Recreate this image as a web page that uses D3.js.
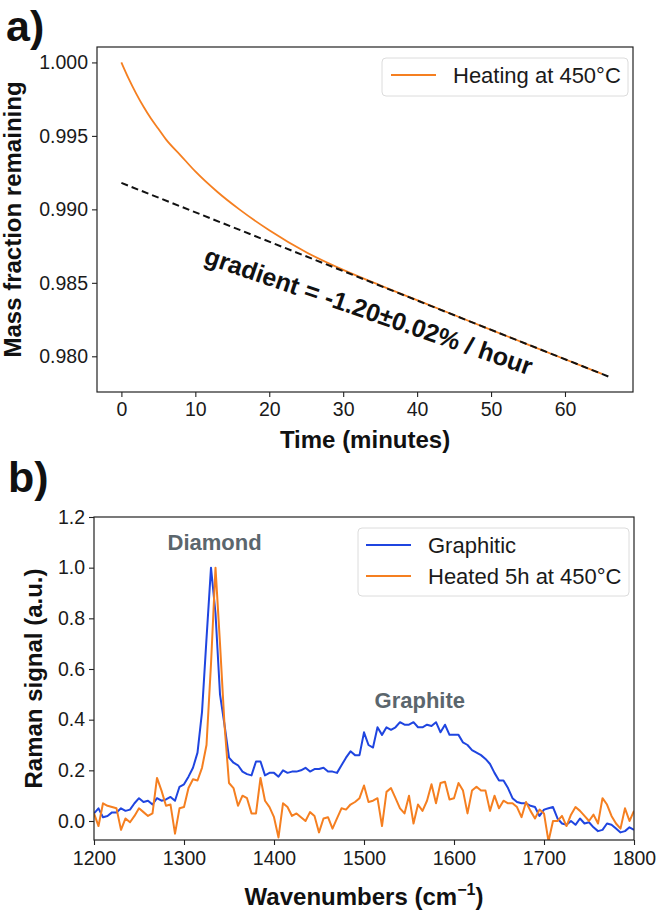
<!DOCTYPE html>
<html><head><meta charset="utf-8">
<script src="https://cdn.jsdelivr.net/npm/d3@7"></script>
<style>
body{margin:0;background:#fff}
text{font-family:"Liberation Sans",Arial,Helvetica,sans-serif}
</style>
</head><body>
<svg id="c" width="661" height="916"></svg>
<script>
// ---------- Panel a data ----------
const timeMin = [0,1,2,3,4,5,6,8,10,13,16,20,25,30,35,40,45,50,55,60,65];
const massFraction = [1.0000,0.99888,0.99788,0.99698,0.99618,0.99548,0.99478,0.99368,0.99258,0.99118,0.98998,0.98858,0.98708,0.98588,0.98483,0.98382,0.98281,0.98180,0.98080,0.97980,0.97880];
const fitTime = [0, 66];
const fitMass = [0.9918, 0.9786];
const timeTicks = [0,10,20,30,40,50,60];
const massTicks = [0.980,0.985,0.990,0.995,1.000];
const legendA = ["Heating at 450°C"];
const gradientLabel = "gradient = -1.20±0.02% / hour";

// ---------- Panel b data ----------
const wavenumbers = [1200,1205,1210,1215,1220,1225,1230,1235,1240,1245,1250,1255,1260,1265,1270,1275,1280,1285,1290,1295,
1300,1305,1310,1315,1320,1325,1330,1335,1340,1345,1350,1355,1360,1365,1370,1375,1380,1385,1390,1395,
1400,1405,1410,1415,1420,1425,1430,1435,1440,1445,1450,1455,1460,1465,1470,1475,1480,1485,1490,1495,
1500,1505,1510,1515,1520,1525,1530,1535,1540,1545,1550,1555,1560,1565,1570,1575,1580,1585,1590,1595,
1600,1605,1610,1615,1620,1625,1630,1635,1640,1645,1650,1655,1660,1665,1670,1675,1680,1685,1690,1695,
1700,1705,1710,1715,1720,1725,1730,1735,1740,1745,1750,1755,1760,1765,1770,1775,1780,1785,1790,1795,1800];
const graphitic = [0.03,0.05,0.015,0.02,0.034,0.034,0.05,0.04,0.045,0.07,0.09,0.075,0.08,0.065,0.09,0.08,0.085,0.095,0.08,0.135,
0.145,0.175,0.21,0.27,0.43,0.72,1.0,0.82,0.50,0.38,0.25,0.23,0.22,0.195,0.185,0.18,0.235,0.235,0.18,0.19,
0.19,0.175,0.2,0.19,0.195,0.195,0.2,0.21,0.195,0.205,0.205,0.21,0.195,0.195,0.19,0.22,0.25,0.275,0.26,0.26,
0.35,0.30,0.29,0.37,0.34,0.37,0.36,0.37,0.39,0.38,0.38,0.39,0.37,0.37,0.38,0.375,0.39,0.35,0.38,0.34,
0.34,0.34,0.31,0.30,0.28,0.27,0.26,0.245,0.225,0.19,0.16,0.16,0.13,0.09,0.075,0.07,0.07,0.06,0.055,0.02,
0.045,0.05,0.055,0.01,-0.01,-0.015,0.0,-0.015,0.01,-0.01,-0.005,-0.025,-0.04,-0.035,-0.01,-0.015,-0.03,-0.045,-0.04,-0.025,-0.035];
const heated = [0.03,-0.02,0.07,0.06,0.055,0.05,-0.035,0.01,-0.005,0.02,0.05,0.035,0.02,0.03,0.17,0.12,0.06,0.065,-0.05,0.05,
0.055,0.13,0.165,0.16,0.21,0.30,0.62,1.0,0.70,0.38,0.15,0.13,0.06,0.10,0.09,0.03,0.03,0.17,0.08,0.055,
0.015,-0.065,0.07,0.055,0.02,0.03,0.015,0.0,0.035,0.02,-0.045,0.01,0.015,-0.03,0.01,0.05,0.045,0.065,0.075,0.09,
0.14,0.075,0.08,0.09,-0.02,0.115,0.13,0.09,0.05,0.03,0.10,-0.01,0.065,0.04,0.08,0.145,0.07,0.15,0.155,0.085,
0.09,0.15,0.12,0.03,0.12,0.135,0.12,0.12,0.04,0.10,0.05,0.08,0.07,0.07,0.055,0.015,0.075,0.04,0.01,0.045,
0.03,-0.08,0.0,0.0,0.02,-0.02,0.025,0.055,0.04,0.02,0.0,0.025,-0.01,0.09,0.065,0.02,-0.01,-0.03,0.05,0.0,0.04];
const wnTicks = [1200,1300,1400,1500,1600,1700,1800];
const ramanTicks = [0.0,0.2,0.4,0.6,0.8,1.0,1.2];
const legendB = ["Graphitic","Heated 5h at 450°C"];

// ---------- styles ----------
const ORANGE = "#f57f20", BLUE = "#1f45e0", FRAME = "#222", NOTE = "#5b666d";
const svg = d3.select("#c");

function frame(g, x0, y0, x1, y1) {
  g.append("rect").attr("x", x0).attr("y", y0).attr("width", x1 - x0).attr("height", y1 - y0)
    .attr("fill", "none").attr("stroke", FRAME).attr("stroke-width", 1.2);
}
function styleAxis(sel) {
  sel.select(".domain").remove();
  sel.selectAll(".tick line").attr("stroke", FRAME).attr("stroke-width", 1.1);
  sel.selectAll(".tick text").attr("fill", "#1a1a1a").style("font-size", "19.5px")
    .style("font-family", "'Liberation Sans',Arial,sans-serif");
}

// ================= Panel a =================
const A = {l: 97, r: 633, t: 47, b: 392};
const xa = d3.scaleLinear().domain([-3.3, 69.2]).range([A.l, A.r]);
const ya = d3.scaleLinear().domain([0.97757, 1.00105]).range([A.b, A.t]);
const ga = svg.append("g");

ga.append("text").attr("x", 6).attr("y", 41).text("a)")
  .style("font-size", "43px").style("font-weight", "bold").attr("fill", "#111");

const axa = ga.append("g").attr("transform", `translate(0,${A.b})`)
  .call(d3.axisBottom(xa).tickValues(timeTicks).tickSize(5).tickPadding(5).tickFormat(d3.format("d")));
styleAxis(axa);
const aya = ga.append("g").attr("transform", `translate(${A.l},0)`)
  .call(d3.axisLeft(ya).tickValues(massTicks).tickSize(5).tickPadding(4).tickFormat(d3.format(".3f")));
styleAxis(aya);

const lineA = d3.line().x((d, i) => xa(timeMin[i])).y(d => ya(d)).curve(d3.curveMonotoneX);
ga.append("path").datum(massFraction).attr("d", lineA).attr("fill", "none")
  .attr("stroke", ORANGE).attr("stroke-width", 1.8);
const fitLine = d3.line().x((d, i) => xa(fitTime[i])).y(d => ya(d));
ga.append("path").datum(fitMass).attr("d", fitLine).attr("fill", "none")
  .attr("stroke", "#111").attr("stroke-width", 2).attr("stroke-dasharray", "7,4");

ga.append("text").attr("transform", `translate(${xa(11)},${ya(0.98635)}) rotate(19)`)
  .text(gradientLabel).style("font-size", "25px").style("font-weight", "bold").attr("fill", "#111");

frame(ga, A.l, A.t, A.r, A.b);

// legend a
const la = ga.append("g");
la.append("rect").attr("x", 382).attr("y", 58).attr("width", 246).attr("height", 38).attr("rx", 4)
  .attr("fill", "#fff").attr("fill-opacity", 0.8).attr("stroke", "#dcdcdc").attr("stroke-width", 1);
la.append("line").attr("x1", 391).attr("x2", 436).attr("y1", 75).attr("y2", 75)
  .attr("stroke", ORANGE).attr("stroke-width", 2);
la.append("text").attr("x", 453).attr("y", 83).text(legendA[0]).style("font-size", "22px").attr("fill", "#1a1a1a");

ga.append("text").attr("x", (A.l + A.r) / 2).attr("y", 448).attr("text-anchor", "middle")
  .text("Time (minutes)").style("font-size", "24px").style("font-weight", "bold").attr("fill", "#111");
ga.append("text").attr("transform", `translate(21,${(A.t + A.b) / 2}) rotate(-90)`).attr("text-anchor", "middle")
  .text("Mass fraction remaining").style("font-size", "24px").style("font-weight", "bold").attr("fill", "#111");

// ================= Panel b =================
const B = {l: 94, r: 634, t: 517, b: 840};
const xb = d3.scaleLinear().domain([1200, 1800]).range([B.l, B.r]);
const yb = d3.scaleLinear().domain([-0.075, 1.2]).range([B.b, B.t]);
const gb = svg.append("g");

gb.append("text").attr("x", 8).attr("y", 492).text("b)")
  .style("font-size", "43px").style("font-weight", "bold").attr("fill", "#111");

const axb = gb.append("g").attr("transform", `translate(0,${B.b})`)
  .call(d3.axisBottom(xb).tickValues(wnTicks).tickSize(5).tickPadding(6).tickFormat(d3.format("d")));
styleAxis(axb);
const ayb = gb.append("g").attr("transform", `translate(${B.l},0)`)
  .call(d3.axisLeft(yb).tickValues(ramanTicks).tickSize(5).tickPadding(4).tickFormat(d3.format(".1f")));
styleAxis(ayb);

gb.append("clipPath").attr("id", "clipb").append("rect")
  .attr("x", B.l).attr("y", B.t).attr("width", B.r - B.l).attr("height", B.b - B.t);
const lineB = d3.line().x((d, i) => xb(wavenumbers[i])).y(d => yb(d));
const plotB = gb.append("g").attr("clip-path", "url(#clipb)");
plotB.append("path").datum(graphitic).attr("d", lineB).attr("fill", "none")
  .attr("stroke", BLUE).attr("stroke-width", 2).attr("stroke-linejoin", "round");
plotB.append("path").datum(heated).attr("d", lineB).attr("fill", "none")
  .attr("stroke", ORANGE).attr("stroke-width", 2).attr("stroke-linejoin", "round");

gb.append("text").attr("x", xb(1334)).attr("y", yb(1.07)).attr("text-anchor", "middle")
  .text("Diamond").style("font-size", "22px").style("font-weight", "bold").attr("fill", NOTE);
gb.append("text").attr("x", xb(1562)).attr("y", yb(0.445)).attr("text-anchor", "middle")
  .text("Graphite").style("font-size", "22px").style("font-weight", "bold").attr("fill", NOTE);

frame(gb, B.l, B.t, B.r, B.b);

// legend b
const lb = gb.append("g");
lb.append("rect").attr("x", 358).attr("y", 528).attr("width", 271).attr("height", 68).attr("rx", 4)
  .attr("fill", "#fff").attr("fill-opacity", 0.8).attr("stroke", "#dcdcdc").attr("stroke-width", 1);
[BLUE, ORANGE].forEach((c, i) => {
  const y = 545 + i * 31;
  lb.append("line").attr("x1", 366).attr("x2", 411).attr("y1", y).attr("y2", y)
    .attr("stroke", c).attr("stroke-width", 2);
  lb.append("text").attr("x", 428).attr("y", y + 8).text(legendB[i]).style("font-size", "22px").attr("fill", "#1a1a1a");
});

const xl = gb.append("text").attr("x", (B.l + B.r) / 2).attr("y", 905).attr("text-anchor", "middle")
  .style("font-size", "24px").style("font-weight", "bold").attr("fill", "#111");
xl.append("tspan").text("Wavenumbers (cm");
xl.append("tspan").attr("dy", -10).style("font-size", "16px").text("\u22121");
xl.append("tspan").attr("dy", 10).text(")");
gb.append("text").attr("transform", `translate(42,${(B.t + B.b) / 2}) rotate(-90)`).attr("text-anchor", "middle")
  .text("Raman signal (a.u.)").style("font-size", "24px").style("font-weight", "bold").attr("fill", "#111");
</script>
</body></html>
